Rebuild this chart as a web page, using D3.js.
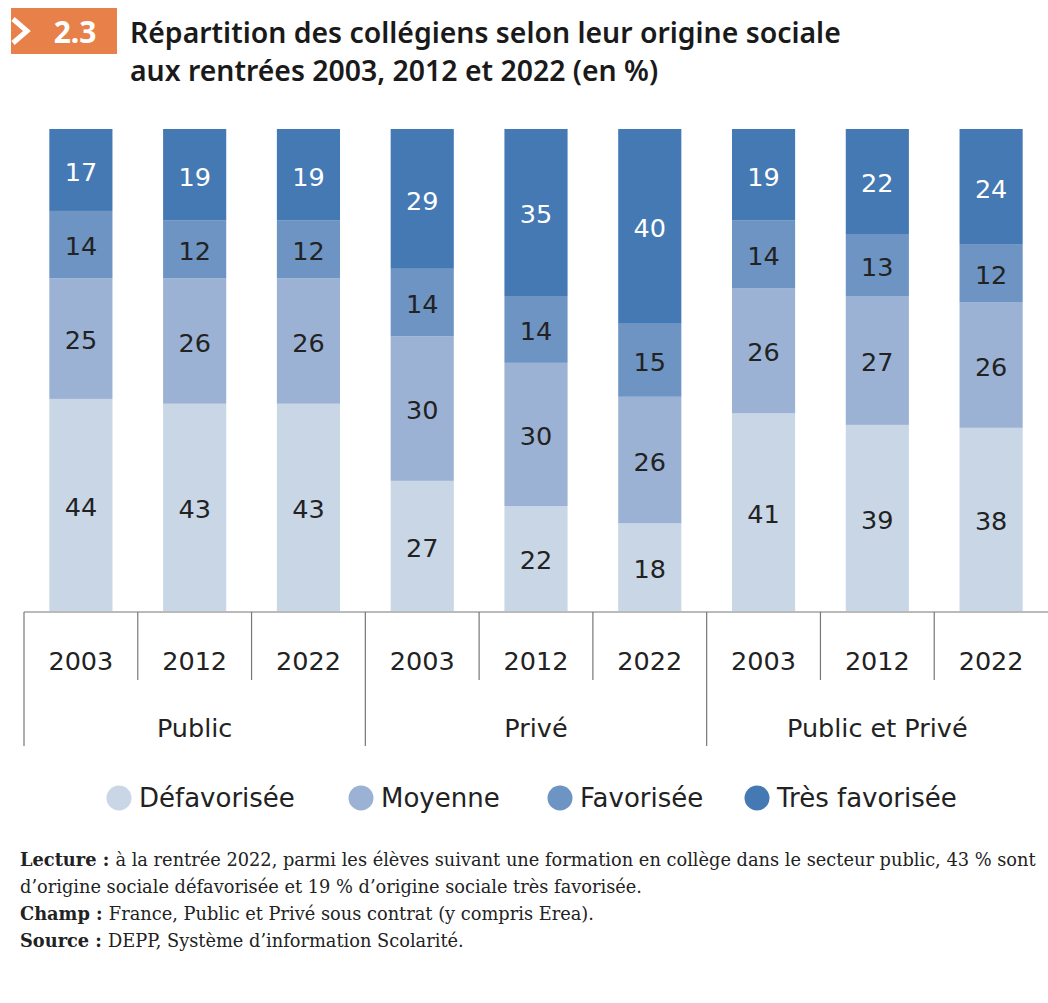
<!DOCTYPE html>
<html>
<head>
<meta charset="utf-8">
<script src="https://cdn.jsdelivr.net/npm/d3@7"></script>
<style>
  body { margin: 0; background: #fff; }
</style>
</head>
<body>
<script>
// Data
const sectors = ["Public", "Privé", "Public et Privé"];
const years = ["2003", "2012", "2022"];
const categories = ["Défavorisée", "Moyenne", "Favorisée", "Très favorisée"];
const defavorisee = [44, 43, 43, 27, 22, 18, 41, 39, 38];
const moyenne = [25, 26, 26, 30, 30, 26, 26, 27, 26];
const favorisee = [14, 12, 12, 14, 14, 15, 14, 13, 12];
const tresFavorisee = [17, 19, 19, 29, 35, 40, 19, 22, 24];

const colors = ["#c8d6e6", "#9bb2d4", "#6d94c3", "#4579b4"];
const labelColors = ["#222", "#222", "#222", "#fff"];

const width = 1048;
const height = 1003;
const sans = "DejaVu Sans";

// one row per bar
const rows = [];
sectors.forEach((s, i) => {
  years.forEach((y, j) => {
    const k = i * years.length + j;
    rows.push({
      key: s + "|" + y,
      sector: s,
      year: y,
      "Défavorisée": defavorisee[k],
      "Moyenne": moyenne[k],
      "Favorisée": favorisee[k],
      "Très favorisée": tresFavorisee[k]
    });
  });
});

const series = d3.stack()
    .keys(categories)
    .offset(d3.stackOffsetExpand)(rows);

const x = d3.scaleBand()
    .domain(rows.map(d => d.key))
    .range([24, width])
    .paddingInner(0.445)
    .paddingOuter(0.2225);

const y = d3.scaleLinear()
    .domain([0, 1])
    .range([611, 129]);

const color = d3.scaleOrdinal().domain(categories).range(colors);

const svg = d3.select("body").append("svg")
    .attr("width", width)
    .attr("height", height)
    .attr("viewBox", [0, 0, width, height]);

// Header badge
const badge = svg.append("g");
badge.append("rect")
    .attr("x", 11).attr("y", 8)
    .attr("width", 106).attr("height", 46)
    .attr("fill", "#e8804a");
badge.append("path")
    .attr("d", "M13,19 L27,31 L13,43")
    .attr("fill", "none")
    .attr("stroke", "#fff")
    .attr("stroke-width", 5);
badge.append("text")
    .attr("x", 75).attr("y", 43)
    .attr("text-anchor", "middle")
    .attr("fill", "#fff")
    .attr("font-family", "Noto Sans")
    .attr("font-weight", 700)
    .attr("font-size", 30)
    .text("2.3");

const title = svg.append("text")
    .attr("font-family", "Noto Sans")
    .attr("font-weight", 600)
    .attr("font-size", 28.4)
    .attr("fill", "#1a1a1a");
title.append("tspan").attr("x", 130).attr("y", 43)
    .text("Répartition des collégiens selon leur origine sociale");
title.append("tspan").attr("x", 130).attr("y", 81)
    .text("aux rentrées 2003, 2012 et 2022 (en %)");

// Bars
const layer = svg.append("g")
  .selectAll("g")
  .data(series)
  .join("g")
    .attr("fill", d => color(d.key));

layer.selectAll("rect")
  .data(d => d)
  .join("rect")
    .attr("x", d => x(d.data.key))
    .attr("y", d => y(d[1]))
    .attr("width", x.bandwidth())
    .attr("height", d => y(d[0]) - y(d[1]));

// Value labels
svg.append("g")
    .attr("font-family", sans)
    .attr("font-size", 25.5)
    .attr("text-anchor", "middle")
  .selectAll("g")
  .data(series)
  .join("g")
    .attr("fill", (d, i) => labelColors[i])
  .selectAll("text")
  .data(d => d.map(v => ({ v, key: d.key })))
  .join("text")
    .attr("x", d => x(d.v.data.key) + x.bandwidth() / 2)
    .attr("y", d => (y(d.v[0]) + y(d.v[1])) / 2)
    .attr("dy", "0.42em")
    .text(d => d.v.data[d.key]);

// Category axis with two levels
const axis = svg.append("g")
    .attr("stroke", "#777")
    .attr("stroke-width", 1.2);

axis.append("line")
    .attr("x1", 24).attr("x2", width)
    .attr("y1", 612).attr("y2", 612);

const step = x.step();
rows.forEach((d, i) => {
  const left = x(d.key) - x.paddingInner() * step / 2;
  const isGroupStart = i % years.length === 0;
  axis.append("line")
      .attr("x1", left).attr("x2", left)
      .attr("y1", 612)
      .attr("y2", isGroupStart ? 746 : 680);
});

svg.append("g")
    .attr("font-family", sans)
    .attr("font-size", 25.5)
    .attr("fill", "#222")
    .attr("text-anchor", "middle")
  .selectAll("text")
  .data(rows)
  .join("text")
    .attr("x", d => x(d.key) + x.bandwidth() / 2)
    .attr("y", 670)
    .text(d => d.year);

svg.append("g")
    .attr("font-family", sans)
    .attr("font-size", 25.5)
    .attr("fill", "#222")
    .attr("text-anchor", "middle")
  .selectAll("text")
  .data(sectors)
  .join("text")
    .attr("x", s => {
      const ks = rows.filter(r => r.sector === s).map(r => x(r.key));
      return (d3.min(ks) + d3.max(ks) + x.bandwidth()) / 2;
    })
    .attr("y", 737)
    .text(s => s);

// Legend
const legendX = [119, 361, 560, 757];
const legend = svg.append("g")
    .attr("font-family", sans)
    .attr("font-size", 26)
    .attr("fill", "#222")
  .selectAll("g")
  .data(categories)
  .join("g")
    .attr("transform", (d, i) => `translate(${legendX[i]},798)`);

legend.append("circle")
    .attr("r", 12.5)
    .attr("fill", d => color(d));

legend.append("text")
    .attr("x", 20)
    .attr("dy", "0.36em")
    .text(d => d);

// Notes
const notes = [
  ["Lecture : ", "à la rentrée 2022, parmi les élèves suivant une formation en collège dans le secteur public, 43 % sont"],
  ["", "d’origine sociale défavorisée et 19 % d’origine sociale très favorisée."],
  ["Champ : ", "France, Public et Privé sous contrat (y compris Erea)."],
  ["Source : ", "DEPP, Système d’information Scolarité."]
];

const noteText = svg.append("g")
    .attr("font-family", "DejaVu Serif")
    .attr("font-size", 17.8)
    .attr("fill", "#222")
  .selectAll("text")
  .data(notes)
  .join("text")
    .attr("x", 20)
    .attr("y", (d, i) => 866 + i * 27);

noteText.append("tspan")
    .attr("font-weight", 700)
    .text(d => d[0]);
noteText.append("tspan")
    .text(d => d[1]);
</script>
</body>
</html>
